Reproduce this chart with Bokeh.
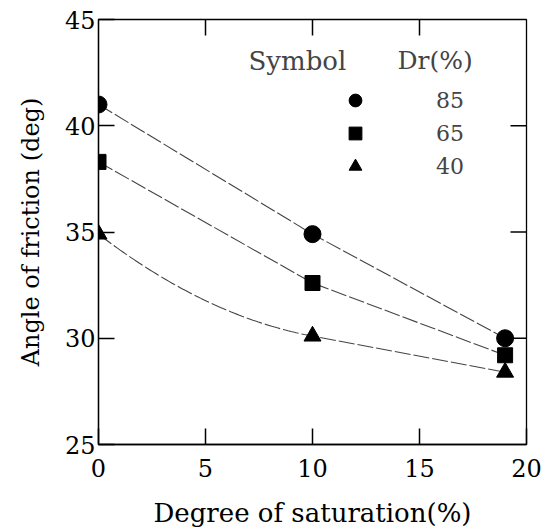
import numpy as np
from bokeh.plotting import figure
from bokeh.models import FixedTicker, Legend, LegendItem, Label, Range1d
from bokeh.embed import file_html
from bokeh.resources import INLINE

# ---- data ----
saturation = [0, 10, 19]
phi_85 = [41.0, 34.9, 30.0]
phi_65 = [38.3, 32.6, 29.2]
phi_40 = [34.9, 30.1, 28.4]
dr_labels = ["85", "65", "40"]
x_ticks = [0, 5, 10, 15, 20]
y_ticks = [25, 30, 35, 40, 45]
x_title = "Degree of saturation(%)"
y_title = "Angle of friction (deg)"

FONT = "DejaVu Serif"


def bent_curve(x, y, n=80):
    """Smooth first span (Hermite), straight after: follows the drawn 40% curve."""
    x = np.asarray(x, float)
    y = np.asarray(y, float)
    h = np.diff(x)
    d = np.diff(y) / h
    m1 = d[1]
    m0 = 2 * d[0] - m1
    t = np.linspace(0, 1, n)
    h00 = 2 * t**3 - 3 * t**2 + 1
    h10 = t**3 - 2 * t**2 + t
    h01 = -2 * t**3 + 3 * t**2
    h11 = t**3 - t**2
    xs = list(x[0] + t * h[0]) + list(x[2:])
    ys = list(h00 * y[0] + h10 * h[0] * m0 + h01 * y[1] + h11 * h[0] * m1) + list(y[2:])
    return xs, ys


p = figure(width=550, height=530, x_range=Range1d(x_ticks[0], x_ticks[-1]),
           y_range=Range1d(y_ticks[0], y_ticks[-1]),
           output_backend="svg", toolbar_location=None,
           min_border_left=98, min_border_right=24, min_border_top=19, min_border_bottom=85)
p.grid.visible = False
p.outline_line_color = "black"
p.outline_line_width = 1.3
p.background_fill_color = "white"
p.border_fill_color = "white"

for ax in (p.xaxis[0], p.yaxis[0]):
    ax.major_tick_in = 16
    ax.major_tick_out = 0
    ax.minor_tick_in = 0
    ax.minor_tick_out = 0
    ax.axis_line_color = "black"
    ax.axis_line_width = 1.3
    ax.major_tick_line_color = "black"
    ax.major_tick_line_width = 1.5
    ax.major_label_text_font = FONT
    ax.major_label_text_font_size = "24px"
    ax.major_label_text_color = "black"
    ax.axis_label_text_font = FONT
    ax.axis_label_text_font_style = "normal"
    ax.axis_label_text_color = "black"

p.xaxis.ticker = FixedTicker(ticks=x_ticks)
p.yaxis.ticker = FixedTicker(ticks=y_ticks)
p.xaxis.axis_label = x_title
p.yaxis.axis_label = y_title
p.xaxis.axis_label_text_font_size = "26px"
p.yaxis.axis_label_text_font_size = "24px"
p.xaxis.major_label_standoff = 14
p.yaxis.major_label_standoff = 3
p.xaxis.axis_label_standoff = 18
p.yaxis.axis_label_standoff = 17

# inward ticks on the top and right edges of the frame
tick_kw = dict(length=16, length_units="screen", line_color="black", line_width=1.5)
p.ray(x=x_ticks[1:-1], y=[y_ticks[-1]] * (len(x_ticks) - 2), angle=-np.pi / 2, **tick_kw)
p.ray(x=[x_ticks[-1]] * (len(y_ticks) - 2), y=y_ticks[1:-1], angle=np.pi, **tick_kw)

line_kw = dict(line_color="#444444", line_width=1.1, line_dash="16 3")
p.line(saturation, phi_85, **line_kw)
p.line(saturation, phi_65, **line_kw)
xs40, ys40 = bent_curve(saturation, phi_40)
p.line(xs40, ys40, **line_kw)

r85 = p.scatter(saturation, phi_85, marker="circle", size=17, color="black")
r65 = p.scatter(saturation, phi_65, marker="square", size=15, color="black")
r40 = p.scatter(saturation, phi_40, marker="triangle", size=17, color="black")

legend = Legend(items=[LegendItem(label=dr_labels[0], renderers=[r85]),
                       LegendItem(label=dr_labels[1], renderers=[r65]),
                       LegendItem(label=dr_labels[2], renderers=[r40])],
                location=(241, 262), glyph_width=32, glyph_height=32,
                label_standoff=65, spacing=1, padding=0, margin=0,
                border_line_color=None, background_fill_alpha=0,
                label_text_font=FONT, label_text_font_size="22px")
p.add_layout(legend)

p.add_layout(Label(x=150, y=384, x_units="screen", y_units="screen", text="Symbol",
                   text_font=FONT, text_font_size="26px", text_baseline="middle"))
p.add_layout(Label(x=299, y=384, x_units="screen", y_units="screen", text="Dr(%)",
                   text_font=FONT, text_font_size="25px", text_baseline="middle"))

open("out.html", "w").write(file_html(p, INLINE))
